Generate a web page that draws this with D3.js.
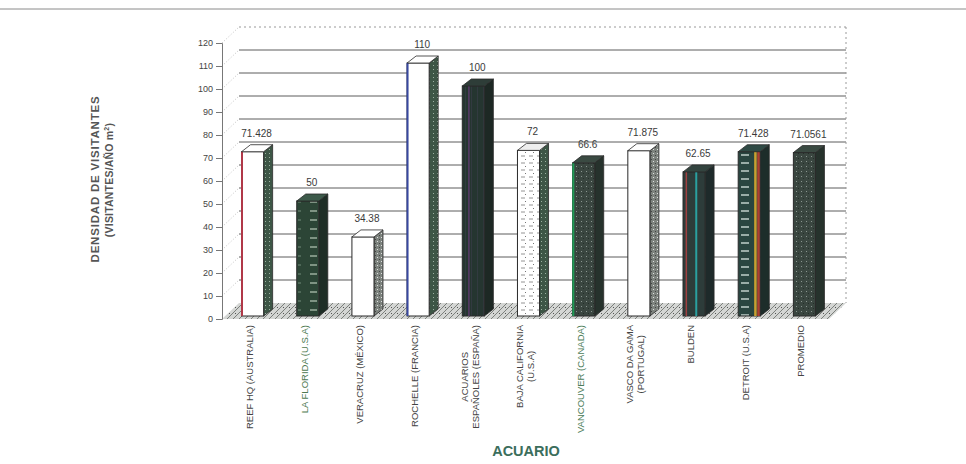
<!DOCTYPE html>
<html><head><meta charset="utf-8">
<script src="https://cdn.jsdelivr.net/npm/d3@7"></script>
<style>
html,body{margin:0;padding:0;background:#fff;}
svg{display:block;font-family:"Liberation Sans",Arial,sans-serif;}
</style></head><body>
<svg id="chart" width="966" height="464"></svg>
<script>
// Visitor density per aquarium (visitors / year · m²)
const categories = [
  "REEF HQ (AUSTRALIA)", "LA FLORIDA (U.S.A)", "VERACRUZ (MÉXICO)", "ROCHELLE (FRANCIA)",
  "ACUARIOS\nESPAÑOLES (ESPAÑA)", "BAJA CALIFORNIA\n(U.S.A)", "VANCOUVER (CANADA)",
  "VASCO DA GAMA\n(PORTUGAL)", "BULDEN", "DETROIT  (U.S.A)", "PROMEDIO"
];
const values = [71.428, 50, 34.38, 110, 100, 72, 66.6, 71.875, 62.65, 71.428, 71.0561];
const yTicks = [0, 10, 20, 30, 40, 50, 60, 70, 80, 90, 100, 110, 120];
const yTitleLines = ["DENSIDAD DE VISITANTES", "(VISITANTES/AÑO  m"];
const xTitle = "ACUARIO";

// face fills for each column (front / side / top) and thin coloured edges
const faceStyles = [
  {front: "#ffffff", side: "url(#pSideSpeck)", top: "#ffffff", accents: [[0.02, "#b03848", 2]]},
  {front: "url(#pDashDark)", side: "#1e2e26", top: "#3d5a4a", accents: []},
  {front: "#ffffff", side: "url(#pGreySpeck)", top: "#ffffff", accents: []},
  {front: "#ffffff", side: "url(#pSideSpeck)", top: "#ffffff", accents: [[0.02, "#3848a0", 2]]},
  {front: "url(#pDark)", side: "#1d2824", top: "#2e3d38", accents: [[0.3, "#5a3a6a", 1.5]]},
  {front: "url(#pSpeckLight)", side: "url(#pSideSpeck)", top: "#eeeeee", accents: []},
  {front: "url(#pDarkSpeck)", side: "#26322c", top: "#3a4a42", accents: [[0.03, "#1f9a55", 2]]},
  {front: "#ffffff", side: "url(#pGreySpeck)", top: "#ffffff", accents: []},
  {front: "#2d3c3a", side: "#1e2a2a", top: "#33443f", accents: [[0.15, "#a04040", 1.5], [0.6, "#2aa0a0", 2]]},
  {front: "url(#pTealDash)", side: "#1d2d2a", top: "#2f4a45", accents: [[0.78, "#c9a030", 2.5], [0.92, "#b04030", 2.5]]},
  {front: "url(#pDarkSpeck)", side: "#26322c", top: "#3a4a42", accents: []}
];
const labelColors = ["#444", "#4f7a52", "#444", "#444", "#444", "#444", "#4b7c58", "#444", "#444", "#444", "#444"];

const svg = d3.select("#chart");

// plot geometry (front plane of the 3-D box and its depth)
const X0 = 222, X1 = 829, Y0 = 319, YTOP = 43;
const DX = 17, DY = -16;          // wall depth
const BO = [3, -3];               // bar front-plane offset
const BD = [9, -7];               // bar depth

const x = d3.scaleBand().domain(categories).range([X0, X1]).paddingInner(0.6).paddingOuter(0.3);
const y = d3.scaleLinear().domain([0, 120]).range([Y0, YTOP]);

// ---------- patterns ----------
const defs = svg.append("defs");
function pattern(id, w, h, bg, draw) {
  const p = defs.append("pattern").attr("id", id).attr("patternUnits", "userSpaceOnUse")
    .attr("width", w).attr("height", h);
  p.append("rect").attr("width", w).attr("height", h).attr("fill", bg);
  draw(p);
}
pattern("pDashDark", 22, 9, "#2c4536", p => {
  p.append("line").attr("x1", 2).attr("x2", 9).attr("y1", 4).attr("y2", 4).attr("stroke", "#b8c8b8").attr("stroke-width", 1.2);
  p.append("line").attr("x1", 12).attr("x2", 15).attr("y1", 4).attr("y2", 4).attr("stroke", "#6f8a78").attr("stroke-width", 1);
});
pattern("pTealDash", 20, 8, "#2a4540", p => {
  p.append("line").attr("x1", 1).attr("x2", 9).attr("y1", 3).attr("y2", 3).attr("stroke", "#d8e4e0").attr("stroke-width", 1.3);
});
pattern("pSpeckLight", 8, 7, "#ffffff", p => {
  p.append("line").attr("x1", 1).attr("x2", 5).attr("y1", 2).attr("y2", 2).attr("stroke", "#888").attr("stroke-width", 0.9);
  p.append("rect").attr("x", 5).attr("y", 5).attr("width", 1).attr("height", 1).attr("fill", "#777");
});
pattern("pDark", 6, 6, "#253530", p => {
  p.append("rect").attr("x", 3).attr("y", 0).attr("width", 1).attr("height", 6).attr("fill", "#323a40");
});
pattern("pDarkSpeck", 5, 5, "#3a4640", p => {
  p.append("rect").attr("x", 1).attr("y", 1).attr("width", 1).attr("height", 1).attr("fill", "#8a9690");
  p.append("rect").attr("x", 3).attr("y", 3).attr("width", 1).attr("height", 1).attr("fill", "#25302a");
});
pattern("pSideSpeck", 4, 4, "#3d5646", p => {
  p.append("rect").attr("x", 1).attr("y", 1).attr("width", 1).attr("height", 1).attr("fill", "#9ab0a0");
});
pattern("pGreySpeck", 4, 4, "#7d837e", p => {
  p.append("rect").attr("x", 1).attr("y", 1).attr("width", 1).attr("height", 1).attr("fill", "#e0e0e0");
  p.append("rect").attr("x", 3).attr("y", 3).attr("width", 1).attr("height", 1).attr("fill", "#444");
});
pattern("pFloor", 6, 6, "#d4d6d4", p => {
  p.append("line").attr("x1", 0).attr("y1", 6).attr("x2", 6).attr("y2", 0).attr("stroke", "#7c807c").attr("stroke-width", 1);
  p.append("rect").attr("x", 1).attr("y", 1).attr("width", 1).attr("height", 1).attr("fill", "#555");
});

// ---------- frame ----------
svg.append("line").attr("x1", 0).attr("x2", 966).attr("y1", 9).attr("y2", 9)
  .attr("stroke", "#8a8a8a").attr("stroke-width", 1);

// floor
svg.append("polygon")
  .attr("points", [[X0, Y0], [X1, Y0], [X1 + DX, Y0 + DY], [X0 + DX, Y0 + DY]].map(p => p.join(",")).join(" "))
  .attr("fill", "url(#pFloor)");

// back-wall gridlines and left-wall diagonals
const grid = svg.append("g");
yTicks.filter(v => v > 0).forEach(v => {
  grid.append("line")
    .attr("x1", X0 + DX).attr("x2", X1 + DX).attr("y1", y(v) + DY).attr("y2", y(v) + DY)
    .attr("stroke", v === 120 ? "#999" : "#4a4a4a")
    .attr("stroke-width", v === 120 ? 1 : 0.9)
    .attr("stroke-dasharray", v === 120 ? "2,3" : null);
  grid.append("line")
    .attr("x1", X0).attr("x2", X0 + DX).attr("y1", y(v)).attr("y2", y(v) + DY)
    .attr("stroke", "#b0b0b0").attr("stroke-width", 0.8).attr("stroke-dasharray", "1,2");
});
grid.append("line")
  .attr("x1", X1 + DX).attr("x2", X1 + DX).attr("y1", y(120) + DY).attr("y2", y(0) + DY)
  .attr("stroke", "#9a9a9a").attr("stroke-dasharray", "2,3");

// y axis
const yAxis = d3.axisLeft(y).tickValues(yTicks).tickSize(6).tickPadding(3);
const gy = svg.append("g").attr("transform", `translate(${X0},0)`).call(yAxis);
gy.select(".domain").attr("stroke", "#777");
gy.selectAll(".tick line").attr("stroke", "#777");
gy.selectAll(".tick text").attr("fill", "#444").attr("font-size", 9)
  .attr("font-family", '"Liberation Sans",Arial,sans-serif');

// ---------- columns ----------
const bars = svg.append("g").selectAll("g").data(categories).join("g");
bars.each(function (c, i) {
  const g = d3.select(this);
  const st = faceStyles[i];
  const w = x.bandwidth();
  const xf = x(c) + BO[0];
  const yt = y(values[i]) + BO[1];
  const yb = y(0) + BO[1];
  const pts = a => a.map(p => p.join(",")).join(" ");
  g.append("polygon")
    .attr("points", pts([[xf + w, yt], [xf + w + BD[0], yt + BD[1]], [xf + w + BD[0], yb + BD[1]], [xf + w, yb]]))
    .attr("fill", st.side).attr("stroke", "#2a2a2a").attr("stroke-width", 0.8);
  g.append("rect").attr("x", xf).attr("y", yt).attr("width", w).attr("height", yb - yt)
    .attr("fill", st.front).attr("stroke", "#2a2a2a").attr("stroke-width", 1);
  st.accents.forEach(([f, col, sw]) => {
    g.append("line").attr("x1", xf + f * w).attr("x2", xf + f * w).attr("y1", yt).attr("y2", yb)
      .attr("stroke", col).attr("stroke-width", sw);
  });
  g.append("polygon")
    .attr("points", pts([[xf, yt], [xf + BD[0], yt + BD[1]], [xf + w + BD[0], yt + BD[1]], [xf + w, yt]]))
    .attr("fill", st.top).attr("stroke", "#2a2a2a").attr("stroke-width", 0.8);
  // value label
  g.append("text")
    .attr("x", xf + w / 2 + 4).attr("y", yt + BD[1] - 8)
    .attr("text-anchor", "middle").attr("font-size", 10).attr("fill", "#3a3a3a")
    .text(String(values[i]));
});

// ---------- category labels (rotated) ----------
const LABEL_TOP = 325;
categories.forEach((c, i) => {
  const lines = c.split("\n");
  const cx = x(c) + x.bandwidth() / 2;
  const g = svg.append("g");
  const texts = lines.map((ln, k) => g.append("text")
    .attr("font-size", 9.5).attr("fill", labelColors[i])
    .attr("text-anchor", "middle").text(ln));
  const maxLen = d3.max(texts, t => t.node().getComputedTextLength());
  const cy = LABEL_TOP + maxLen / 2;
  texts.forEach((t, k) => {
    const bx = cx + 3 + (k - (lines.length - 1) / 2) * 11;
    t.attr("transform", `translate(${bx},${cy}) rotate(-90)`);
  });
});

// ---------- axis titles ----------
svg.append("text")
  .attr("transform", "translate(99,179) rotate(-90)")
  .attr("text-anchor", "middle").attr("font-size", 11.5).attr("font-weight", "bold")
  .attr("letter-spacing", 0.8).attr("fill", "#555").text(yTitleLines[0]);
const yt2 = svg.append("text")
  .attr("transform", "translate(113,180) rotate(-90)")
  .attr("text-anchor", "middle").attr("font-size", 10.5).attr("font-weight", "bold")
  .attr("letter-spacing", 0.2).attr("fill", "#555");
yt2.append("tspan").text(yTitleLines[1]);
yt2.append("tspan").attr("font-size", 7).attr("dy", -4).text("2");
yt2.append("tspan").attr("dy", 4).text(")");

svg.append("text")
  .attr("x", 526).attr("y", 456).attr("text-anchor", "middle")
  .attr("font-size", 14.5).attr("font-weight", "bold").attr("fill", "#3b6e5c")
  .text(xTitle);
</script>
</body></html>
